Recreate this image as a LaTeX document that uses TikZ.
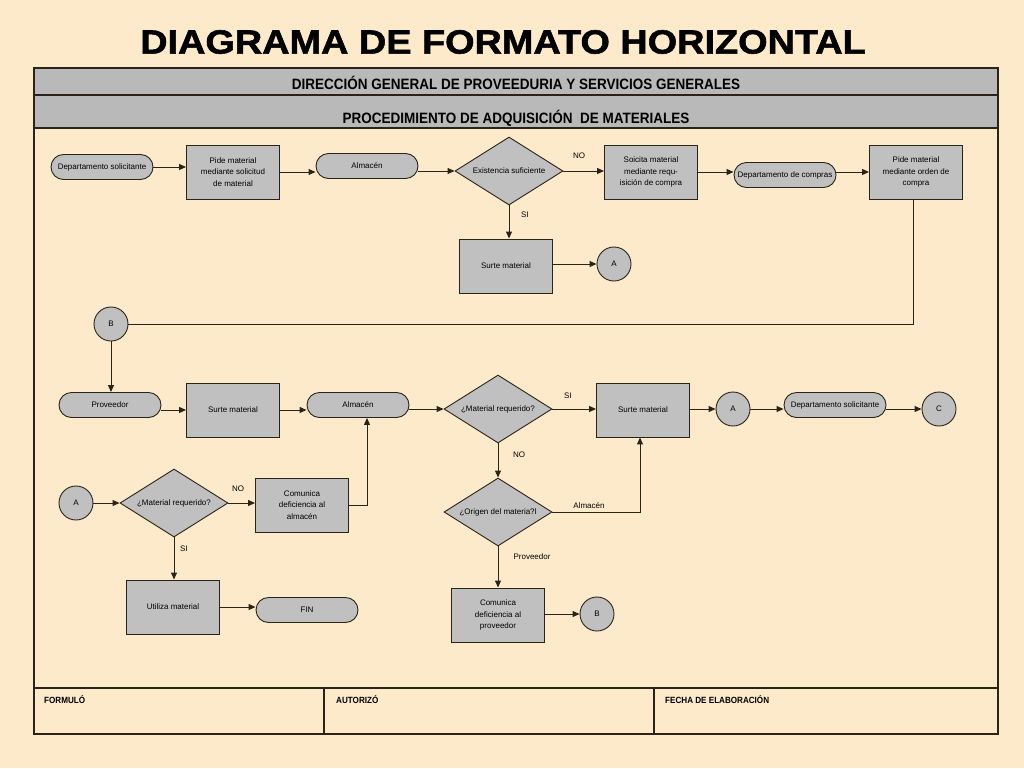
\documentclass[tikz,border=0pt]{standalone}
\usepackage{fontspec}
\setmainfont{Liberation Sans}
\newfontfamily\titlefont{Liberation Sans Bold}[FakeBold=1.6,FakeStretch=1.13]
\newfontfamily\narrowfont{Liberation Sans Bold}[FakeStretch=0.9]
\usetikzlibrary{shapes.geometric,arrows.meta}
\definecolor{bgc}{HTML}{FDEACB}
\definecolor{boxg}{HTML}{C0C0C0}
\definecolor{hdrg}{HTML}{B9B9B9}
\definecolor{ln}{HTML}{2A2418}
\begin{document}
\begin{tikzpicture}[x=1pt,y=-1pt,
  base/.style={draw=ln, line width=0.9pt, fill=boxg, font=\fontsize{8}{11.5}\selectfont, align=center, inner sep=1pt},
  proc/.style={base, rectangle, minimum width=93pt, minimum height=54pt},
  term/.style={base, rectangle, rounded corners=12.5pt, minimum width=102pt, minimum height=25pt},
  deci/.style={base, diamond, aspect=1.6, minimum width=108pt, minimum height=68pt, inner sep=0pt},
  conn/.style={base, circle, minimum size=34pt, inner sep=0pt},
  arr/.style={draw=ln, line width=1pt, -{Triangle[length=7pt,width=6pt]}},
  lnk/.style={draw=ln, line width=1pt},
  lbl/.style={font=\fontsize{8}{9}\selectfont, inner sep=0pt},
  hdr/.style={font=\narrowfont\fontsize{15}{17}\selectfont, inner sep=0pt},
  ftr/.style={font=\narrowfont\fontsize{9}{10}\selectfont, inner sep=0pt, anchor=west},
]
\useasboundingbox (0,0) rectangle (1024,768);
\fill[bgc] (0,0) rectangle (1024,768);
% title
\node[font=\titlefont\fontsize{33.5}{40}\selectfont, inner sep=0pt] (title) at (503,42) {DIAGRAMA DE FORMATO HORIZONTAL};
% frame
\fill[hdrg] (34,68) rectangle (998,128);
\draw[ln, line width=1.3pt] (34,95) -- (998,95);
\draw[ln, line width=1.3pt] (34,128) -- (998,128);
\draw[ln, line width=1.3pt] (34,688) -- (998,688);
\draw[ln, line width=1.3pt] (324,688) -- (324,734);
\draw[ln, line width=1.3pt] (654,688) -- (654,734);
\draw[ln, line width=2.5pt] (34,68) rectangle (998,734);
\node[hdr] (h1) at (516,83) {DIRECCIÓN GENERAL DE PROVEEDURIA Y SERVICIOS GENERALES};
\node[hdr] (h2) at (516,118) {PROCEDIMIENTO DE ADQUISICIÓN\ \ DE MATERIALES};
\node[ftr] (f1) at (44,700) {FORMULÓ};
\node[ftr] (f2) at (336,700) {AUTORIZÓ};
\node[ftr] (f3) at (665,700) {FECHA DE ELABORACIÓN};

% row 1
\node[term] (ds1) at (102,167) {Departamento solicitante};
\node[proc] (pm1) at (233,172) {Pide material\\mediante solicitud\\de material};
\node[term] (alm1) at (367,166) {Almacén};
\node[deci] (ex) at (509,171) {Existencia suficiente};
\node[proc] (sm1) at (651,172) {Soicita material\\mediante requ-\\isición de compra};
\node[term] (dc) at (785,175) {Departamento de compras};
\node[proc] (po) at (916,172) {Pide material\\mediante orden de\\compra};
\node[proc] (ss1) at (506,266) {Surte material};
\node[conn] (a1) at (614,264) {A};
\node[conn] (b1) at (111,324) {B};

\draw[arr] (ds1.east) -- (ds1.east -| pm1.west);
\draw[arr] (pm1.east) -- (pm1.east -| alm1.west);
\draw[arr] (alm1.east |- ex.west) -- (ex.west);
\draw[arr] (ex.east) -- (ex.east -| sm1.west);
\draw[arr] (sm1.east) -- (sm1.east -| dc.west);
\draw[arr] (dc.east |- po.west) -- (po.west);
\draw[arr] (ex.south) -- (ex.south |- ss1.north);
\draw[arr] (ss1.east |- a1.west) -- (a1.west);
\draw[lnk] ([xshift=-3pt]po.south) -- ([xshift=-3pt]po.south |- b1.east) -- (b1.east);
\node[lbl] (lno1) at (579,156) {NO};
\node[lbl] (lsi1) at (525,215) {SI};

% row 2
\node[term] (prov) at (110,405) {Proveedor};
\node[proc] (sm2) at (233,410) {Surte material};
\node[term] (alm2) at (358,405) {Almacén};
\node[deci] (mr1) at (498,409) {¿Material requerido?};
\node[proc] (sm3) at (643,410) {Surte material};
\node[conn] (a2) at (733,409) {A};
\node[term] (ds2) at (835,405) {Departamento solicitante};
\node[conn] (c1) at (939,409) {C};
\node[deci] (or1) at (498,512) {¿Origen del materia?l};
\node[proc] (cdp) at (498,615) {Comunica\\deficiencia al\\proveedor};
\node[conn] (b2) at (597,614) {B};

\draw[arr] (b1.south) -- (b1.south |- prov.north);
\draw[arr] (prov.east |- sm2.west) -- (sm2.west);
\draw[arr] (sm2.east) -- (sm2.east -| alm2.west);
\draw[arr] (alm2.east |- mr1.west) -- (mr1.west);
\draw[arr] (mr1.east) -- (mr1.east -| sm3.west);
\draw[arr] (sm3.east |- a2.west) -- (a2.west);
\draw[arr] (a2.east) -- (a2.east -| ds2.west);
\draw[arr] (ds2.east |- c1.west) -- (c1.west);
\draw[arr] (mr1.south) -- (or1.north);
\draw[arr] (or1.east) -| ([xshift=-3pt]sm3.south);
\draw[arr] (or1.south) -- (cdp.north);
\draw[arr] (cdp.east |- b2.west) -- (b2.west);
\node[lbl] (lsi2) at (568,396) {SI};
\node[lbl] (lno2) at (519,455) {NO};
\node[lbl] (lalm) at (589,506) {Almacén};
\node[lbl] (lprov) at (532,557) {Proveedor};

% left bottom
\node[conn] (a3) at (76,503) {A};
\node[deci] (mr2) at (174,503) {¿Material requerido?};
\node[proc] (cda) at (302,505) {Comunica\\deficiencia al\\almacén};
\node[proc] (um) at (173,607) {Utiliza material};
\node[term] (fin) at (307,610) {FIN};

\draw[arr] (a3.east) -- (mr2.west);
\draw[arr] (mr2.east) -- (mr2.east -| cda.west);
\draw[arr] (cda.east) -| ([xshift=9pt]alm2.south);
\draw[arr] (mr2.south) -- (mr2.south |- um.north);
\draw[arr] (um.east) -- (um.east -| fin.west);
\node[lbl] (lno3) at (238,489) {NO};
\node[lbl] (lsi3) at (184,549) {SI};
\end{tikzpicture}
\end{document}
